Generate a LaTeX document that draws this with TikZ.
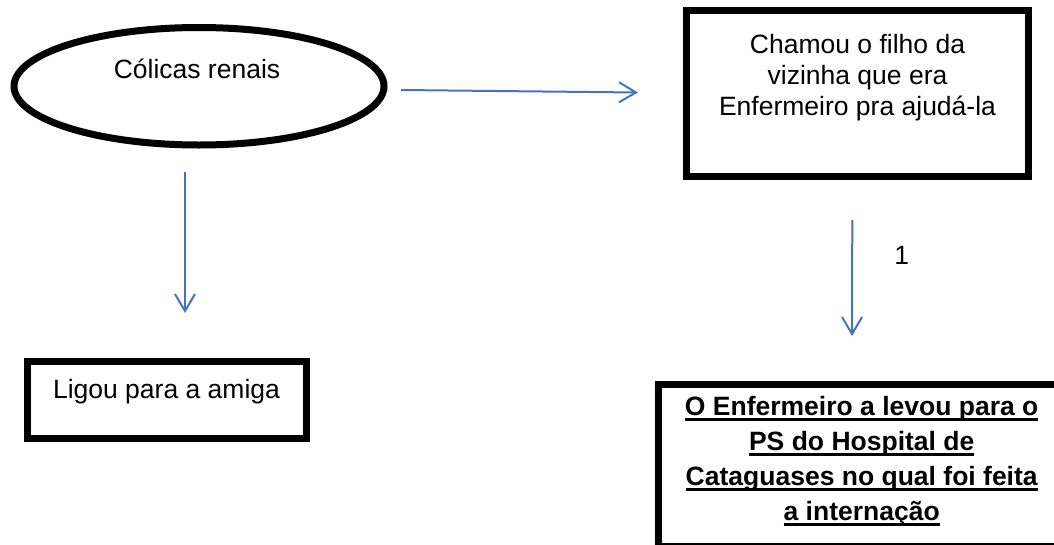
\documentclass[tikz,border=0pt]{standalone}
\usepackage{fontspec}
\setmainfont{Liberation Sans}
\usetikzlibrary{arrows.meta,shapes.geometric,calc}
\definecolor{flow}{RGB}{68,114,196}
% underline at a fixed depth below the baseline, whatever the descenders
\newcommand\ulbar[1]{\setbox0\hbox{#1}\rlap{\rule[-5pt]{\wd0}{2.3pt}}\box0}

\begin{document}
\begin{tikzpicture}[x=1pt,y=-1pt,
  outline/.style={draw=black, line width=7pt, inner sep=0pt, outer sep=0pt},
  frame/.style={outline, rectangle, anchor=north west},
  oval/.style={outline, ellipse},
  lbl/.style={inner sep=0pt, outer sep=0pt, anchor=base, align=center,
    font=\fontsize{26.5}{31}\selectfont},
  boldlbl/.style={lbl, font=\fontsize{26.5}{35}\selectfont\bfseries},
  flowarrow/.style={draw=flow, line width=2pt,
    -{Straight Barb[length=17pt,width=20pt,line width=2pt]}},
]
\useasboundingbox (0,0) rectangle (1054,544);
\clip (0,0) rectangle (1054,544);

% shapes
\node[oval, minimum width=370pt, minimum height=117.5pt] (colicas) at (199,86.25) {};
\node[frame, minimum width=342pt, minimum height=165.8pt] (chamou) at (686.5,10.7) {};
\node[frame, minimum width=279pt, minimum height=77pt] (ligou) at (27.5,361.5) {};
\node[frame, minimum width=420pt, minimum height=161.5pt] (levou) at (658.5,384.5) {};

% texts (multi-line labels are placed by the baseline of their last line)
\node[lbl] (colicasT) at (197,78) {Cólicas renais};
\node[lbl] (chamouT) at (857.5,115) {Chamou o filho da\\vizinha que era\\Enfermeiro pra ajudá-la};
\node[lbl] (ligouT) at (166.5,398) {Ligou para a amiga};
\node[boldlbl] (levouT) at (861.7,520.5) {\ulbar{O Enfermeiro a levou para o}\\\ulbar{PS do Hospital de}\\\ulbar{Cataguases no qual foi feita}\\\ulbar{a internação}};
\node[lbl] (one) at (901.7,264) {1};

% connector ends
\coordinate (a1s) at ($(colicas.east)+(17,3.75)$);
\coordinate (a1e) at ($(chamou.west)+(-48.5,-1.1)$);
\coordinate (a2s) at ($(colicas.south)+(-14,27)$);
\coordinate (a2e) at ($(ligou.north)+(18,-48.5)$);
\coordinate (a3s) at ($(chamou.south)+(-5.2,43.5)$);
\coordinate (a3e) at ($(levou.north)+(-16.5,-48.5)$);

% connectors
\draw[flowarrow] (a1s) -- (a1e);
\draw[flowarrow] (a2s) -- (a2e);
\draw[flowarrow] (a3s) -- (a3e);
\end{tikzpicture}
\end{document}
